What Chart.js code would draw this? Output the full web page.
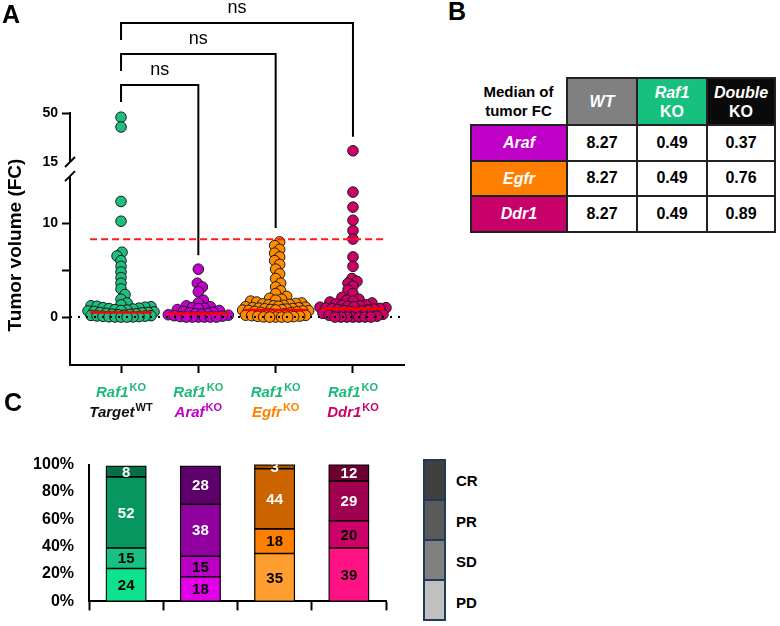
<!DOCTYPE html>
<html>
<head>
<meta charset="utf-8">
<script src="https://cdn.jsdelivr.net/npm/chart.js@4.4.1/dist/chart.umd.min.js"></script>
<style>
  body { margin: 0; background: #fff; font-family: "Liberation Sans", Arial, sans-serif; }
  #wrap { position: relative; width: 780px; height: 626px; overflow: hidden; }
  canvas { position: absolute; }
  .letter { position: absolute; font-size: 25px; font-weight: bold; line-height: 25px; }
  #tbl { position: absolute; left: 470px; top: 77px; border-collapse: collapse; table-layout: fixed; font-weight: bold; }
  #tbl td, #tbl th { border: 2px solid #222; text-align: center; padding: 0; font-size: 16px; }
  #tbl th { color: #fff; line-height: 19px; }
  #tbl th.corner { border: none; color: #000; font-size: 15px; background: #fff; }
  #tbl td { background: #fff; color: #000; }
  #leg { position: absolute; left: 423px; top: 459px; width: 19px; border: 2.5px solid #1f3b5c; }
  #leg div { height: 38px; border-bottom: 2px solid #1f3b5c; }
  #leg div:last-child { border-bottom: none; }
  .legtxt { position: absolute; left: 456px; font-size: 15px; font-weight: bold; line-height: 16px; }
</style>
</head>
<body>
<div id="wrap">
  <canvas id="chartA" width="420" height="440" style="left:0;top:0"></canvas>
  <canvas id="chartC" width="420" height="186" style="left:0;top:440px"></canvas>
  <div class="letter" style="left:2px;top:2px">A</div>
  <div class="letter" style="left:448px;top:-1px">B</div>
  <div class="letter" style="left:4px;top:390px">C</div>
  <table id="tbl"></table>
  <div id="leg"></div>
</div>
<script>
const FONT = '"Liberation Sans", Arial, sans-serif';

// ---- panel A data: tumor volume fold change per mouse ----
const groups = ['Target', 'Araf', 'Egfr', 'Ddr1'];
const groupSup = ['WT', 'KO', 'KO', 'KO'];
const tvTarget = [47, 40, 12.3, 10.2, 6.9, 6.5, 6.0, 5.4, 4.8, 4.2, 3.6, 3.0, 2.4, 1.9, 1.5, 1.3, 1.2, 1.15,
  1.1, 1.05, 1.0, 0.95, 0.9, 0.85, 0.8, 0.75, 0.7, 0.65, 0.6, 0.55, 0.5, 0.49, 0.45, 0.4, 0.35, 0.3,
  0.28, 0.25, 0.2, 0.18, 0.15, 0.12, 0.1, 0.08, 0.05, 0.03, 0.02, 0.01, 0, 0];
const tvAraf = [5.1, 3.6, 3.2, 2.7, 1.8, 1.5, 1.2, 1.1, 1.0, 0.95, 0.9, 0.8, 0.7, 0.6, 0.5, 0.45, 0.4,
  0.37, 0.3, 0.25, 0.2, 0.15, 0.1, 0.05, 0, 0, 0, 0, 0, 0];
const tvEgfr = [8.0, 7.6, 7.2, 6.8, 6.4, 6.0, 5.6, 5.1, 4.6, 4.1, 3.6, 3.2, 2.8, 2.5, 2.2, 2.0, 1.9, 1.8,
  1.7, 1.6, 1.5, 1.45, 1.4, 1.35, 1.3, 1.25, 1.2, 1.15, 1.1, 1.05, 1.0, 0.98, 0.95, 0.9, 0.88, 0.85,
  0.8, 0.78, 0.76, 0.74, 0.7, 0.68, 0.65, 0.6, 0.55, 0.5, 0.45, 0.4, 0.35, 0.3, 0.25, 0.2, 0.18, 0.15,
  0.1, 0.08, 0.05, 0.02, 0, 0, 0, 0];
const tvDdr1 = [23, 13.3, 11.7, 10.3, 9.2, 8.3, 6.4, 5.4, 4.1, 3.8, 3.6, 3.3, 2.9, 2.5, 2.1, 1.9, 1.8,
  1.7, 1.6, 1.5, 1.4, 1.3, 1.25, 1.2, 1.15, 1.1, 1.05, 1.0, 0.95, 0.92, 0.89, 0.85, 0.8, 0.75, 0.7,
  0.65, 0.6, 0.5, 0.4, 0.3, 0.2, 0.1, 0, 0, 0, 0, 0, 0, 0];
const groupVals = [tvTarget, tvAraf, tvEgfr, tvDdr1];
const comparisons = [[1, 2, 'ns'], [1, 3, 'ns'], [1, 4, 'ns']];
const yTicksLow = [0, 5, 10];
const yTicksHigh = [15, 50];

// ---- panel B data: median of tumor FC ----
const tableRows = ['Araf', 'Egfr', 'Ddr1'];
const wtMedian = 8.27;
const raf1Median = 0.49;
const doubleMedians = [0.37, 0.76, 0.89];

// ---- panel C data: response (%) ----
const responses = ['PD', 'SD', 'PR', 'CR'];
const pdPct = [24, 18, 35, 39];
const sdPct = [15, 15, 18, 20];
const prPct = [52, 38, 44, 29];
const crPct = [8, 28, 3, 12];

// colours
const dotColors = ['#1dbf7e', '#c300cc', '#ff8c00', '#cc0066'];
const labelColors = ['#111111', '#c000c8', '#ff8000', '#cc0066'];
const raf1Color = '#1db97a';
const rowColors = ['#bf00c6', '#ff8000', '#c8006a'];
const headColors = ['#808080', '#18c07f', '#0a0a0a'];
const pdColors = ['#0de28f', '#e100e8', '#ff9e30', '#ff1284'];
const sdColors = ['#1ac081', '#bb00c6', '#ff8000', '#cc0068'];
const prColors = ['#079660', '#8f009e', '#cc6500', '#a00050'];
const crColors = ['#056f47', '#5e006b', '#a24f00', '#6c0030'];
const legColors = ['#404040', '#5a5a5a', '#808080', '#c0c0c0'];

// ---------------- panel A ----------------
const BREAK = yTicksHigh[0];
const datasetsA = [];
groupVals.forEach((vals, gi) => {
  const low = vals.filter(v => v <= BREAK), high = vals.filter(v => v > BREAK);
  [[low, 'y'], [high, 'yTop']].forEach(([arr, axis]) => {
    datasetsA.push({
      group: gi, yAxisID: axis, order: 1,
      data: arr.map(v => ({ x: gi + 1, y: v })),
      backgroundColor: dotColors[gi], borderColor: '#1a1a1a', borderWidth: 1,
      pointRadius: 5.3, pointHoverRadius: 5.3, clip: false
    });
  });
});
const medians = [raf1Median, ...doubleMedians];
medians.forEach((m, gi) => {
  datasetsA.push({
    type: 'line', yAxisID: 'y', order: 0,
    data: [{ x: gi + 0.6, y: m }, { x: gi + 1.4, y: m }],
    borderColor: '#ff0000', borderWidth: 2.6, pointRadius: 0
  });
});
datasetsA.push({
  type: 'line', yAxisID: 'y', order: 0,
  data: [{ x: 0.6, y: wtMedian }, { x: 4.41, y: wtMedian }],
  borderColor: '#ff1a1a', borderWidth: 2, borderDash: [7, 4], pointRadius: 0
});
datasetsA.push({
  type: 'line', yAxisID: 'y', order: 0,
  data: [{ x: 0.34, y: 0 }, { x: 4.66, y: 0 }],
  borderColor: '#000', borderWidth: 2, borderDash: [2, 6], pointRadius: 0
});

function line(ctx, x1, y1, x2, y2) {
  ctx.beginPath(); ctx.moveTo(x1, y1); ctx.lineTo(x2, y2); ctx.stroke();
}
function supText(ctx, cx, base, main, sup, color) {
  ctx.font = 'italic bold 15px ' + FONT;
  const w1 = ctx.measureText(main).width;
  ctx.font = 'bold 11px ' + FONT;
  const w2 = ctx.measureText(sup).width;
  const x0 = cx - (w1 + w2 + 1) / 2;
  ctx.fillStyle = color;
  ctx.textAlign = 'left';
  ctx.font = 'italic bold 15px ' + FONT;
  ctx.fillText(main, x0, base);
  ctx.font = 'bold 11px ' + FONT;
  ctx.fillText(sup, x0 + w1 + 1, base - 6);
}

const panelA = {
  id: 'panelA',
  afterDraw(chart) {
    const { ctx, chartArea: ca } = chart;
    const { x, y, yTop } = chart.scales;
    ctx.save();
    ctx.strokeStyle = '#000';
    ctx.lineWidth = 2;
    // broken y axis
    const ax = ca.left;
    const bTop = yTop.getPixelForValue(BREAK);
    const bLow = y.getPixelForValue(BREAK);
    line(ctx, ax, yTop.top - 1, ax, bTop);
    line(ctx, ax, bLow, ax, ca.bottom + 1);
    [bTop, bLow].forEach(py => line(ctx, ax - 5, py + 5, ax + 5, py - 5));

    // significance brackets
    const pxOf = v => (v > BREAK ? yTop : y).getPixelForValue(v);
    ctx.fillStyle = '#000';
    ctx.font = '18px ' + FONT;
    ctx.textAlign = 'center';
    ctx.textBaseline = 'alphabetic';
    comparisons.forEach(([a, b, txt], k) => {
      const by = ca.top - 28 - k * 31;
      const xa = x.getPixelForValue(a), xb = x.getPixelForValue(b);
      const topPt = pxOf(Math.max(...groupVals[b - 1]));
      ctx.beginPath();
      ctx.moveTo(xa, by + 17); ctx.lineTo(xa, by); ctx.lineTo(xb, by); ctx.lineTo(xb, topPt - 14);
      ctx.stroke();
      ctx.fillText(txt, (xa + xb) / 2, by - 10);
    });

    // axis title
    ctx.save();
    ctx.translate(16, 245);
    ctx.rotate(-Math.PI / 2);
    ctx.font = 'bold 19px ' + FONT;
    ctx.textBaseline = 'middle';
    ctx.fillText('Tumor volume (FC)', 0, 0);
    ctx.restore();

    // category labels
    groups.forEach((g, i) => {
      const cx = x.getPixelForValue(i + 1);
      supText(ctx, cx, 397, 'Raf1', 'KO', raf1Color);
      supText(ctx, cx, 417, g, groupSup[i], labelColors[i]);
    });
    ctx.restore();
  }
};

const tickFont = { family: FONT, size: 14, weight: 'bold' };
const chartA = new Chart(document.getElementById('chartA'), {
  type: 'scatter',
  data: { datasets: datasetsA },
  options: {
    responsive: false,
    animation: false,
    events: [],
    layout: { padding: { top: 113, right: 16, left: 0, bottom: 0 } },
    plugins: { legend: { display: false }, tooltip: { enabled: false } },
    scales: {
      x: {
        type: 'linear', min: 0.34, max: 4.66,
        afterBuildTicks: s => { s.ticks = groups.map((g, i) => ({ value: i + 1 })); },
        ticks: { display: false },
        grid: { drawOnChartArea: false, drawTicks: true, tickLength: 8, tickWidth: 2, tickColor: '#000' },
        border: { display: true, color: '#000', width: 2 },
        afterFit: s => { s.height = 75; }
      },
      y: {
        type: 'linear', position: 'left', stack: 'tv', stackWeight: 203,
        min: -5.1, max: 16.5,
        afterBuildTicks: s => { s.ticks = yTicksLow.map(v => ({ value: v })); },
        ticks: { color: '#000', font: tickFont, padding: 4, callback: v => (v === 5 ? '' : v) },
        grid: { drawOnChartArea: false, tickLength: 8, tickWidth: 2, tickColor: '#000' },
        border: { display: false },
        afterFit: s => { s.width = 70; }
      },
      yTop: {
        type: 'linear', position: 'left', stack: 'tv', stackWeight: 49,
        min: 15, max: 50,
        afterBuildTicks: s => { s.ticks = yTicksHigh.map(v => ({ value: v })); },
        ticks: { color: '#000', font: tickFont, padding: 4 },
        grid: {
          drawOnChartArea: false, tickLength: 8, tickWidth: 2,
          tickColor: c => (c.tick && c.tick.value === BREAK ? 'rgba(0,0,0,0)' : '#000')
        },
        border: { display: false },
        afterFit: s => { s.width = 70; }
      }
    }
  },
  plugins: [panelA]
});

// spread points of each group sideways (beeswarm) using the chart's own scales
(function swarm(chart) {
  const xs = chart.scales.x;
  const MIN_GAP = 5.6, HALF_W = 33;
  groupVals.forEach((vals, gi) => {
    const pts = [];
    chart.data.datasets.filter(d => d.group === gi).forEach(d => {
      const sc = chart.scales[d.yAxisID];
      d.data.forEach(p => pts.push({ p, py: sc.getPixelForValue(p.y) }));
    });
    pts.sort((a, b) => b.py - a.py);
    const cx = xs.getPixelForValue(gi + 1);
    const placed = [];
    pts.forEach((o, n) => {
      let best = 0, bestD = -1, done = false;
      for (let k = 0; k <= HALF_W && !done; k++) {
        for (const s of (n % 2 ? [1, -1] : [-1, 1])) {
          const dx = s * k;
          let dmin = Infinity;
          for (const q of placed) dmin = Math.min(dmin, Math.hypot(q.dx - dx, q.py - o.py));
          if (dmin >= MIN_GAP) { best = dx; done = true; break; }
          if (dmin > bestD) { bestD = dmin; best = dx; }
          if (k === 0) break;
        }
      }
      placed.push({ dx: best, py: o.py });
      o.p.x = xs.getValueForPixel(cx + best);
    });
  });
  chart.update('none');
})(chartA);

// ---------------- panel B (table) ----------------
(function buildTable() {
  const t = document.getElementById('tbl');
  const cg = document.createElement('colgroup');
  [96, 70, 70, 68].forEach(w => { const c = document.createElement('col'); c.style.width = w + 'px'; cg.appendChild(c); });
  t.appendChild(cg);
  const head = document.createElement('tr');
  head.style.height = '47px';
  head.innerHTML = '<th class="corner">Median of<br>tumor FC</th>' +
    `<th style="background:${headColors[0]}"><i>WT</i></th>` +
    `<th style="background:${headColors[1]}"><i>Raf1</i><br>KO</th>` +
    `<th style="background:${headColors[2]}"><i>Double</i><br>KO</th>`;
  t.appendChild(head);
  tableRows.forEach((r, i) => {
    const tr = document.createElement('tr');
    tr.style.height = '35.5px';
    tr.innerHTML = `<th style="background:${rowColors[i]}"><i>${r}</i></th>` +
      `<td>${wtMedian.toFixed(2)}</td><td>${raf1Median.toFixed(2)}</td><td>${doubleMedians[i].toFixed(2)}</td>`;
    t.appendChild(tr);
  });
})();

// ---------------- panel C ----------------
const segLabels = {
  id: 'segLabels',
  afterDatasetsDraw(chart) {
    const { ctx, chartArea: ca } = chart;
    ctx.save();
    ctx.beginPath();
    ctx.rect(ca.left, ca.top, ca.right - ca.left, ca.bottom - ca.top);
    ctx.clip();
    ctx.font = 'bold 15px ' + FONT;
    ctx.textAlign = 'center';
    ctx.textBaseline = 'middle';
    chart.data.datasets.forEach((ds, di) => {
      chart.getDatasetMeta(di).data.forEach((bar, i) => {
        ctx.fillStyle = ds.labelColor;
        ctx.fillText(ds.data[i], bar.x, (bar.y + bar.base) / 2 + 1);
      });
    });
    ctx.restore();
  }
};

const pctData = [pdPct, sdPct, prPct, crPct];
const pctColors = [pdColors, sdColors, prColors, crColors];
const pctText = ['#000', '#000', '#fff', '#fff'];
new Chart(document.getElementById('chartC'), {
  type: 'bar',
  data: {
    labels: groups,
    datasets: responses.map((r, i) => ({
      label: r, data: pctData[i], backgroundColor: pctColors[i], labelColor: pctText[i],
      borderColor: '#000', borderWidth: 1.3, borderSkipped: false, inflateAmount: 0.5,
      barPercentage: 0.54, categoryPercentage: 1
    }))
  },
  options: {
    responsive: false,
    animation: false,
    events: [],
    layout: { padding: { top: 21, right: 34, left: 0, bottom: 0 } },
    plugins: { legend: { display: false }, tooltip: { enabled: false } },
    scales: {
      x: {
        stacked: true,
        ticks: { display: false },
        grid: { offset: true, drawOnChartArea: false, drawTicks: true, tickLength: 9, tickWidth: 2, tickColor: '#000' },
        border: { display: true, color: '#000', width: 2 },
        afterFit: s => { s.height = 9; }
      },
      y: {
        stacked: true, min: 0, max: 100,
        ticks: { stepSize: 20, color: '#000', padding: 15, font: { family: FONT, size: 16, weight: 'bold' }, callback: v => v + '%' },
        grid: { display: false, drawTicks: false },
        border: { display: true, color: '#000', width: 2 },
        afterFit: s => { s.width = 89; }
      }
    }
  },
  plugins: [segLabels]
});

// legend for panel C (top to bottom: CR, PR, SD, PD)
(function buildLegend() {
  const leg = document.getElementById('leg');
  const wrap = document.getElementById('wrap');
  responses.slice().reverse().forEach((r, i) => {
    const cell = document.createElement('div');
    cell.style.background = legColors[i];
    leg.appendChild(cell);
    const t = document.createElement('div');
    t.className = 'legtxt';
    t.textContent = r;
    t.style.top = (473 + i * 40.5) + 'px';
    wrap.appendChild(t);
  });
})();
</script>
</body>
</html>
